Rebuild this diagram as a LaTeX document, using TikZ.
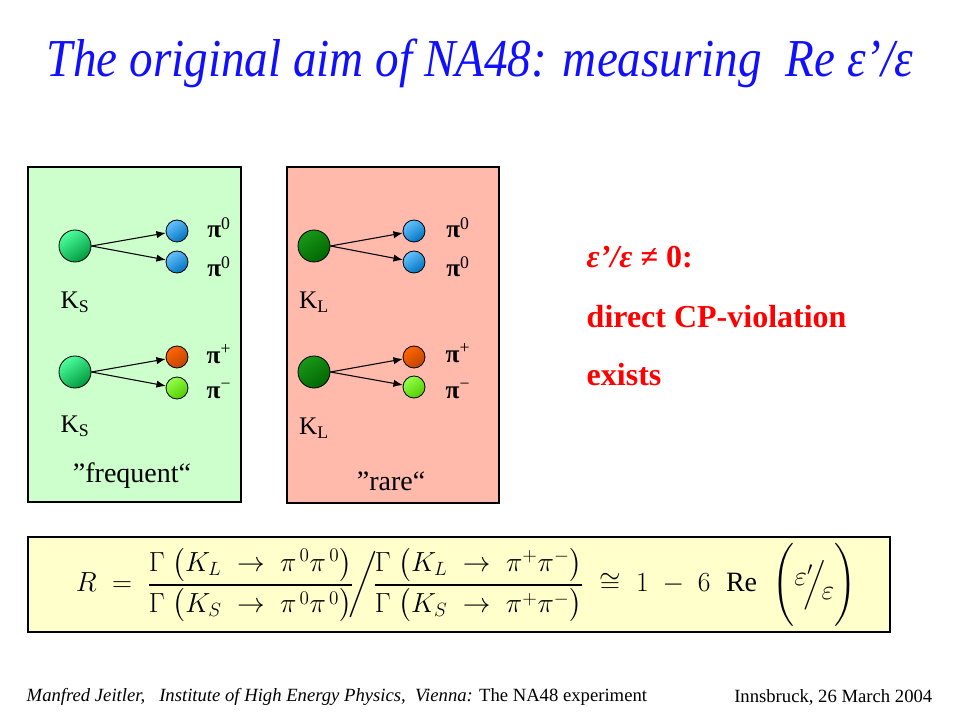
\documentclass[tikz,border=0pt]{standalone}
\usepackage{amsmath}
\usepackage{graphicx}
\usepackage{fontspec}
\setmainfont{Liberation Serif}
\usepackage{tikz}
\usetikzlibrary{arrows,arrows.meta,shapes,positioning}
\definecolor{panelGreen}{HTML}{CCFFCC}
\definecolor{panelRed}{HTML}{FFBAAC}
\definecolor{boxYellow}{HTML}{FFFFCC}
\definecolor{titleBlue}{HTML}{1010FF}
\definecolor{noteRed}{HTML}{FF0000}
\tikzstyle{panel}   = [rectangle, draw, line width=0.8pt]
\tikzstyle{kshort}  = [circle, draw, line width=0.6pt, minimum size=24pt, inner sep=0pt,
    top color=green!55!cyan!70!white, bottom color=green!60!cyan!60!black, shading angle=35]
\tikzstyle{klong}   = [circle, draw, line width=0.6pt, minimum size=24pt, inner sep=0pt,
    top color=green!55!black!90!white, bottom color=green!40!black, shading angle=35]
\tikzstyle{pizero}  = [circle, draw, line width=0.6pt, minimum size=16.5pt, inner sep=0pt,
    top color=cyan!60!blue!60!white, bottom color=cyan!60!blue!75!black, shading angle=35]
\tikzstyle{piplus}  = [circle, draw, line width=0.6pt, minimum size=16.5pt, inner sep=0pt,
    top color=orange!80!red, bottom color=orange!70!red!75!black, shading angle=35]
\tikzstyle{piminus} = [circle, draw, line width=0.6pt, minimum size=16.5pt, inner sep=0pt,
    top color=yellow!40!green!70!white, bottom color=yellow!40!green!80!black, shading angle=35]
\tikzstyle{label}   = [inner sep=1pt, font=\fontsize{19}{21}\selectfont]
\tikzstyle{line}    = [draw, line width=0.8pt, -{Latex[length=7pt,width=5.5pt]}]
\tikzstyle{note}    = [anchor=west, text=noteRed, font=\fontsize{24}{28}\selectfont\bfseries]

\begin{document}
\begin{tikzpicture}[x=0.75pt, y=-0.75pt]
    \useasboundingbox (0,0) rectangle (960,720);
    \fill [white] (0,0) rectangle (960,720);
    % Title
    \node [text=titleBlue, font=\fontsize{40}{48}\selectfont\itshape] (title) at (480,63)
        {\scalebox{0.884}[1]{The original aim of NA48: measuring\ \ Re ε’/ε}};

    % Panels
    \draw [panel, fill=panelGreen] (28,167) rectangle (241,502);
    \draw [panel, fill=panelRed]   (287,167) rectangle (499,503);

    % Place nodes
    \node [kshort]  (kShort0) at (75,246) {};
    \node [pizero]  (pionA0)  at (177,231) {}; \node [label] (pionLabelA0) at (219,228) {\textbf{π}\textsuperscript{0}};
    \node [pizero]  (pionB0)  at (177,262) {}; \node [label] (pionLabelB0) at (219,267) {\textbf{π}\textsuperscript{0}};
    \node [label, below of=kShort0, node distance=42pt] (kLabel0) {K\textsubscript{S}};

    \node [kshort]  (kShort1) at (75,372) {};
    \node [piplus]  (pionA1)  at (177,357) {}; \node [label] (pionLabelA1) at (219,354) {\textbf{π}\textsuperscript{+}};
    \node [piminus] (pionB1)  at (177,388) {}; \node [label] (pionLabelB1) at (219,391) {\textbf{π}\textsuperscript{−}};
    \node [label, below of=kShort1, node distance=41pt] (kLabel1) {K\textsubscript{S}};
    \node [label, font=\fontsize{21}{24}\selectfont] (frequent) at (132,476) {”frequent“};

    \node [klong]   (kLong0)  at (314,246) {};
    \node [pizero]  (pionA2)  at (414,231) {}; \node [label] (pionLabelA2) at (458,228) {\textbf{π}\textsuperscript{0}};
    \node [pizero]  (pionB2)  at (414,262) {}; \node [label] (pionLabelB2) at (458,267) {\textbf{π}\textsuperscript{0}};
    \node [label, below of=kLong0, node distance=42pt] (kLabel2) {K\textsubscript{L}};

    \node [klong]   (kLong1)  at (314,372) {};
    \node [piplus]  (pionA3)  at (414,357) {}; \node [label] (pionLabelA3) at (458,353) {\textbf{π}\textsuperscript{+}};
    \node [piminus] (pionB3)  at (414,387) {}; \node [label] (pionLabelB3) at (458,391) {\textbf{π}\textsuperscript{−}};
    \node [label, below of=kLong1, node distance=42pt] (kLabel3) {K\textsubscript{L}};
    \node [label, font=\fontsize{21}{24}\selectfont] (rare) at (391,481) {”rare“};

    \path [line] (kShort0.east) -- (pionA0);
    \path [line] (kShort0.east) -- (pionB0);
    \path [line] (kShort1.east) -- (pionA1);
    \path [line] (kShort1.east) -- (pionB1);
    \path [line] (kLong0.east)  -- (pionA2);
    \path [line] (kLong0.east)  -- (pionB2);
    \path [line] (kLong1.east)  -- (pionA3);
    \path [line] (kLong1.east)  -- (pionB3);

    % Conclusion
    \node [note] (ratio)  at (582,257) {\textit{ε’/ε} ≠ 0:};
    \node [note] (direct) at (582,317) {direct CP-violation};
    \node [note] (exists) at (582,375) {exists};

    % Formula
    \draw [panel, fill=boxYellow] (28,537) rectangle (890,632);
    \node [font=\fontsize{21}{24}\selectfont] (formula) at (466,585)
        {$R \;=\; \dfrac{\Gamma\;\big(K_{L} \;\to\; \pi^{\,0}\pi^{\,0}\big)}{\Gamma\;\big(K_{S} \;\to\; \pi^{\,0}\pi^{\,0}\big)}
        \!\bigg/\! \dfrac{\Gamma\;\big(K_{L} \;\to\; \pi^{+}\pi^{-}\big)}{\Gamma\;\big(K_{S} \;\to\; \pi^{+}\pi^{-}\big)}
        \;\cong\; 1 \;-\; 6\;\;\mathrm{Re}\;\;\Bigg(\raisebox{5pt}{$\varepsilon'$}\!\!\Big/\!\raisebox{-6pt}{$\varepsilon$}\Bigg)$};

    % Footer
    \node [anchor=west, font=\fontsize{14}{16}\selectfont] (author) at (22,697)
        {\textit{Manfred Jeitler,\ \ \ Institute of High Energy Physics,\ \ Vienna:} The NA48 experiment};
    \node [anchor=east, font=\fontsize{14}{16}\selectfont] (place) at (937,697)
        {Innsbruck, 26 March 2004};
\end{tikzpicture}
\end{document}
